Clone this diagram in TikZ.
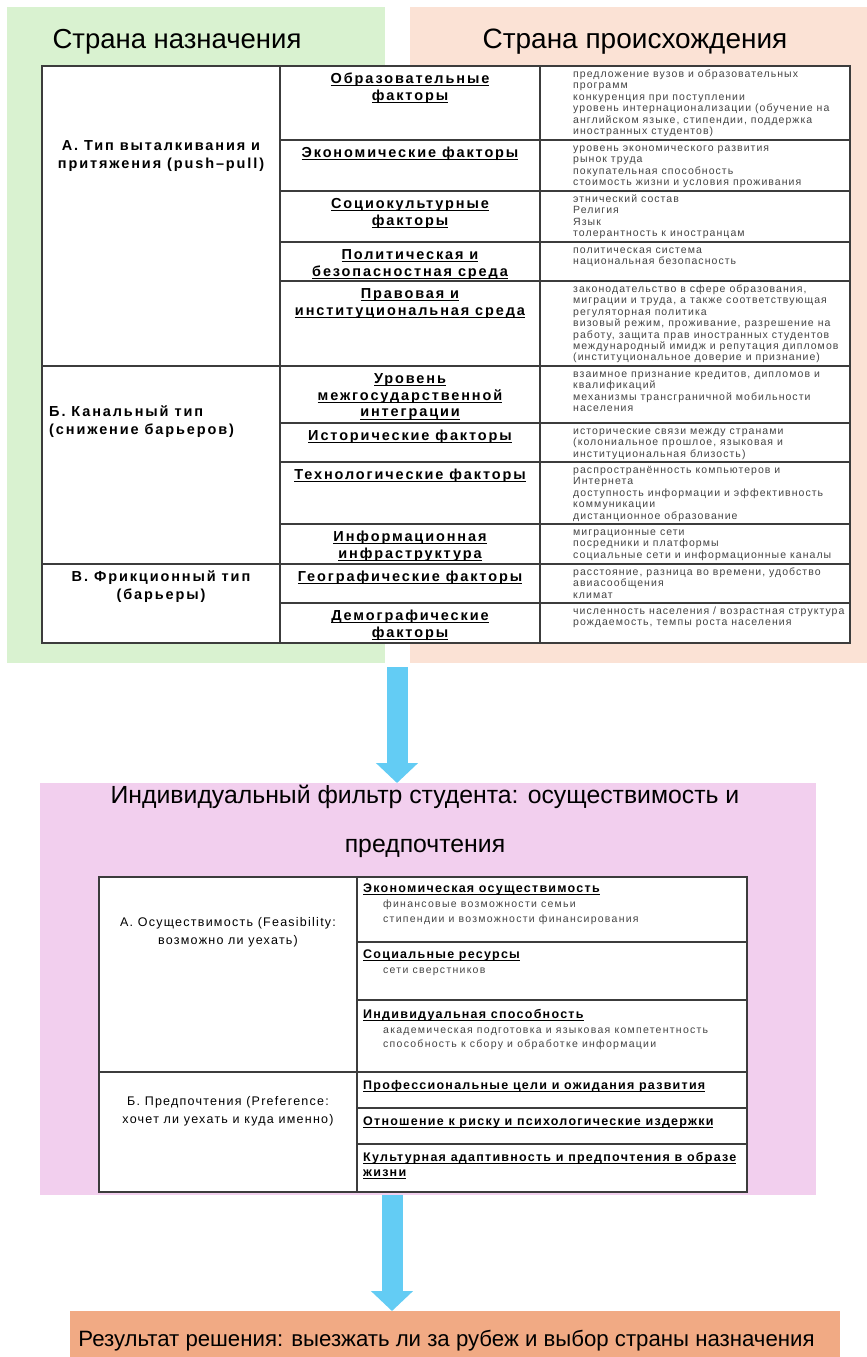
\documentclass[tikz,border=0pt]{standalone}
\usepackage{fontspec}
\setmainfont{Liberation Sans}
\newfontfamily\hdrA[LetterSpace=13]{Liberation Sans}
\newfontfamily\bodyA[LetterSpace=10]{Liberation Sans}
\newfontfamily\hdrB[LetterSpace=10]{Liberation Sans}
\newfontfamily\bodyB[LetterSpace=12]{Liberation Sans}
\newfontfamily\colB[LetterSpace=10]{Liberation Sans}
\newcommand\uln[1]{\setbox0\hbox{#1}\rlap{\rule[-2.8pt]{\wd0}{1pt}}\box0}
\usetikzlibrary{arrows.meta}
\definecolor{greenbg}{HTML}{D9F2D0}
\definecolor{peachbg}{HTML}{FBE2D5}
\definecolor{pinkbg}{HTML}{F2CFEE}
\definecolor{orangebg}{HTML}{F1AA84}
\definecolor{arrowblue}{HTML}{63CCF4}
\definecolor{gridc}{HTML}{3C3C3C}
\definecolor{txtgray}{HTML}{454545}
\newcommand\tc[1]{\begin{tabular}[t]{@{}c@{}}#1\end{tabular}}
\newcommand\tl[1]{\begin{tabular}[t]{@{}l@{}}#1\end{tabular}}
\begin{document}
\begin{tikzpicture}[x=1pt,y=-1pt,
  region/.style={inner sep=0, outer sep=0, anchor=north west, draw=none},
  grid/.style={draw=gridc, line width=1.1pt},
  ttl/.style={font=\fontsize{27.5}{48}\selectfont, inner sep=0, anchor=base},
  cA/.style={font=\hdrA\bfseries\fontsize{14.5}{18}\selectfont, inner sep=0, anchor=base},
  hA/.style={font=\hdrA\bfseries\fontsize{14.5}{16.7}\selectfont, inner sep=0, anchor=base},
  bA/.style={font=\bodyA\fontsize{10.5}{11.4}\selectfont, text=txtgray, inner sep=0, anchor=base west},
  cB/.style={font=\colB\fontsize{12.5}{18}\selectfont, inner sep=0, anchor=base},
  hB/.style={font=\hdrB\bfseries\fontsize{12.5}{15}\selectfont, inner sep=0, anchor=base west},
  bB/.style={font=\bodyB\fontsize{10.5}{14.8}\selectfont, text=txtgray, inner sep=0, anchor=base west},
  bigarrow/.style={draw=arrowblue, line width=21pt, -{Triangle[width=41pt,length=20pt]}}]
\useasboundingbox (0,0) rectangle (867,1357);
\fill[white] (0,0) rectangle (867,1357);
% regions
\node[region, fill=greenbg, minimum width=378pt, minimum height=656pt] (dest) at (7,7) {};
\node[region, fill=peachbg, minimum width=457pt, minimum height=656pt] (orig) at (410,7) {};
\node[region, fill=pinkbg, minimum width=776pt, minimum height=412pt] (filt) at (40,783) {};
\node[region, fill=orangebg, minimum width=770pt, minimum height=46pt] (res) at (70,1311) {};
% titles
\node[ttl] (tdest) at (177,48.3) {Страна назначения};
\node[ttl, font=\fontsize{28}{48}\selectfont] (torig) at (635,48.3) {Страна происхождения};
\node[ttl, font=\fontsize{24.8}{49}\selectfont] (tfilt) at (425,803) {\tc{Индивидуальный фильтр студента: осуществимость и\\предпочтения}};
\node[ttl, font=\fontsize{22.2}{24}\selectfont] (tres) at (446.5,1346.5) {Результат решения: выезжать ли за рубеж и выбор страны назначения};
% arrows
\coordinate (a1s) at (397,667);
\coordinate (a1e) at (397,783);
\coordinate (a2s) at (392,1195);
\coordinate (a2e) at (392,1311);
\draw[bigarrow] (a1s) -- (a1e);
\draw[bigarrow] (a2s) -- (a2e);
% table 1 grid
\fill[white] (42,66) rectangle (850,643);
\draw[grid] (42,66) rectangle (850,643);
\draw[grid] (280,66) -- (280,643);
\draw[grid] (540,66) -- (540,643);
\foreach \yy in {140,191,242,281,423,462,524,603}{\draw[grid] (280,\yy) -- (850,\yy);}
\foreach \yy in {366,564}{\draw[grid] (42,\yy) -- (850,\yy);}
% table 1 column 1
\node[cA] (gA) at (161,150.7) {\tc{А. Тип выталкивания и\\притяжения (push–pull)}};
\node[cA, anchor=base west] (gB) at (49,416.7) {\tl{Б. Канальный тип\\(снижение барьеров)}};
\node[cA] (gC) at (161,581.7) {\tc{В. Фрикционный тип\\(барьеры)}};
% table 1 column 2
\node[hA] (f1) at (410,83.3) {\tc{\uln{Образовательные}\\\uln{факторы}}};
\node[hA] (f2) at (410,157.3) {\tc{\uln{Экономические факторы}}};
\node[hA] (f3) at (410,208.3) {\tc{\uln{Социокультурные}\\\uln{факторы}}};
\node[hA] (f4) at (410,259.3) {\tc{\uln{Политическая и}\\\uln{безопасностная среда}}};
\node[hA] (f5) at (410,298.3) {\tc{\uln{Правовая и}\\\uln{институциональная среда}}};
\node[hA] (f6) at (410,383.3) {\tc{\uln{Уровень}\\\uln{межгосударственной}\\\uln{интеграции}}};
\node[hA] (f7) at (410,440.3) {\tc{\uln{Исторические факторы}}};
\node[hA] (f8) at (410,479.3) {\tc{\uln{Технологические факторы}}};
\node[hA] (f9) at (410,541.3) {\tc{\uln{Информационная}\\\uln{инфраструктура}}};
\node[hA] (f10) at (410,581.3) {\tc{\uln{Географические факторы}}};
\node[hA] (f11) at (410,620.3) {\tc{\uln{Демографические}\\\uln{факторы}}};
% table 1 column 3
\node[bA] (d1) at (573,77.5) {\tl{предложение вузов и образовательных\\программ\\конкуренция при поступлении\\уровень интернационализации (обучение на\\английском языке, стипендии, поддержка\\иностранных студентов)}};
\node[bA] (d2) at (573,151.5) {\tl{уровень экономического развития\\рынок труда\\покупательная способность\\стоимость жизни и условия проживания}};
\node[bA] (d3) at (573,202.5) {\tl{этнический состав\\Религия\\Язык\\толерантность к иностранцам}};
\node[bA] (d4) at (573,253.5) {\tl{политическая система\\национальная безопасность}};
\node[bA] (d5) at (573,292.5) {\tl{законодательство в сфере образования,\\миграции и труда, а также соответствующая\\регуляторная политика\\визовый режим, проживание, разрешение на\\работу, защита прав иностранных студентов\\международный имидж и репутация дипломов\\(институциональное доверие и признание)}};
\node[bA] (d6) at (573,377.5) {\tl{взаимное признание кредитов, дипломов и\\квалификаций\\механизмы трансграничной мобильности\\населения}};
\node[bA] (d7) at (573,434.5) {\tl{исторические связи между странами\\(колониальное прошлое, языковая и\\институциональная близость)}};
\node[bA] (d8) at (573,473.5) {\tl{распространённость компьютеров и\\Интернета\\доступность информации и эффективность\\коммуникации\\дистанционное образование}};
\node[bA] (d9) at (573,535.5) {\tl{миграционные сети\\посредники и платформы\\социальные сети и информационные каналы}};
\node[bA] (d10) at (573,575.5) {\tl{расстояние, разница во времени, удобство\\авиасообщения\\климат}};
\node[bA] (d11) at (573,614.5) {\tl{численность населения / возрастная структура\\рождаемость, темпы роста населения}};
% table 2 grid
\fill[white] (99,877) rectangle (747,1192);
\draw[grid] (99,877) rectangle (747,1192);
\draw[grid] (357,877) -- (357,1192);
\foreach \yy in {942,1000,1108,1144}{\draw[grid] (357,\yy) -- (747,\yy);}
\draw[grid] (99,1072) -- (747,1072);
% table 2 column 1
\node[cB] (sA) at (228,926.5) {\tc{А. Осуществимость (Feasibility:\\возможно ли уехать)}};
\node[cB] (sB) at (228,1105.5) {\tc{Б. Предпочтения (Preference:\\хочет ли уехать и куда именно)}};
% table 2 column 2
\node[hB] (h1) at (363,892.5) {\uln{Экономическая осуществимость}};
\node[bB] (i1) at (383,907.5) {\tl{финансовые возможности семьи\\стипендии и возможности финансирования}};
\node[hB] (h2) at (363,958) {\uln{Социальные ресурсы}};
\node[bB] (i2) at (383,973) {\tl{сети сверстников}};
\node[hB] (h3) at (363,1018.5) {\uln{Индивидуальная способность}};
\node[bB] (i3) at (383,1033) {\tl{академическая подготовка и языковая компетентность\\способность к сбору и обработке информации}};
\node[hB] (h4) at (363,1089.5) {\uln{Профессиональные цели и ожидания развития}};
\node[hB] (h5) at (363,1125) {\uln{Отношение к риску и психологические издержки}};
\node[hB] (h6) at (363,1161) {\tl{\uln{Культурная адаптивность и предпочтения в образе}\\\uln{жизни}}};
\end{tikzpicture}
\end{document}
